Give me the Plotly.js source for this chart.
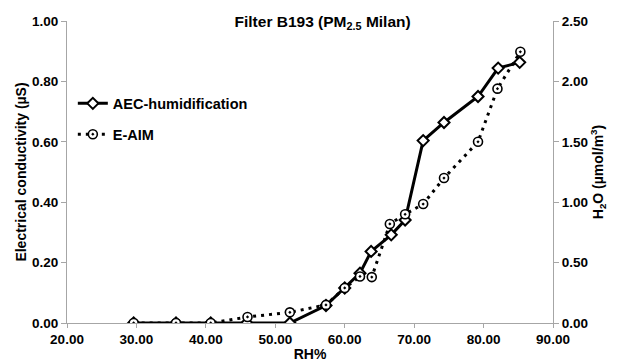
<!DOCTYPE html>
<html>
<head>
<meta charset="utf-8">
<script src="https://cdn.plot.ly/plotly-3.0.1.min.js"></script>
<style>html,body{margin:0;padding:0;background:#fff;}#chart{width:618px;height:362px;}</style>
</head>
<body>
<div id="chart"></div>
<script>
// Data
var rhAEC = [29.6, 35.7, 40.7, 45.9, 52.1, 57.3, 60.0, 62.2, 63.8, 66.7, 68.7, 71.3, 74.3, 79.2, 82.1, 85.2];
var conductivityAEC = [0, 0, 0, 0, 0, 0.058, 0.116, 0.165, 0.237, 0.292, 0.341, 0.604, 0.664, 0.750, 0.844, 0.863];
var rhEAIM = [29.6, 35.7, 40.7, 46.0, 52.1, 57.3, 60.0, 62.2, 63.9, 66.5, 68.7, 71.3, 74.3, 79.2, 82.0, 85.3];
var h2oEAIM = [0, 0, 0, 0.05, 0.088, 0.15, 0.29, 0.385, 0.38, 0.82, 0.90, 0.985, 1.20, 1.50, 1.94, 2.245];
var xTickVals = [20, 30, 40, 50, 60, 70, 80, 90];
var y1TickVals = [0, 0.2, 0.4, 0.6, 0.8, 1.0];
var y2TickVals = [0, 0.5, 1.0, 1.5, 2.0, 2.5];

var FONT = 'Liberation Sans, Arial, sans-serif';
var AXC = '#a6a6a6';

var traces = [
  {
    x: rhAEC, y: conductivityAEC, name: '<b>AEC-humidification</b>',
    type: 'scatter', mode: 'lines+markers', yaxis: 'y', legendgroup: 'a',
    line: {color: '#000', width: 3},
    marker: {symbol: 'diamond', size: 8.5, color: '#fff', line: {color: '#000', width: 2}}
  },
  {
    x: rhEAIM, y: h2oEAIM, name: '<b>E-AIM</b>',
    type: 'scatter', mode: 'lines+markers', yaxis: 'y2', legendgroup: 'b',
    line: {color: '#000', width: 3, dash: '3px,5px'},
    marker: {symbol: 'circle-dot', size: 9, color: '#fff', line: {color: '#000', width: 1.6}}
  }
];

var layout = {
  width: 618, height: 362,
  margin: {l: 67, r: 65, t: 21, b: 39},
  paper_bgcolor: '#fff', plot_bgcolor: '#fff',
  font: {family: FONT, size: 13, color: '#000'},
  title: {
    text: '<b>Filter B193 (PM<sub>2.5</sub> Milan)</b>',
    font: {family: FONT, size: 15.5, color: '#000'},
    x: 0.522, xanchor: 'center', xref: 'container',
    y: 0.94, yanchor: 'middle', yref: 'container'
  },
  showlegend: true,
  legend: {
    x: 0.012, xanchor: 'left', y: 0.78, yanchor: 'top',
    bgcolor: 'rgba(0,0,0,0)', font: {family: FONT, size: 14.5, color: '#000'},
    traceorder: 'grouped', tracegroupgap: 9
  },
  xaxis: {
    range: [20, 90], tickvals: xTickVals, tickformat: '.2f',
    showgrid: false, zeroline: false,
    showline: true, linecolor: AXC, linewidth: 1,
    ticks: 'outside', ticklen: 4, tickcolor: AXC,
    tickfont: {family: FONT, size: 13.5, color: '#000', weight: 'bold'},
    title: {text: '<b>RH%</b>', font: {family: FONT, size: 14, color: '#000'}, standoff: 3}
  },
  yaxis: {
    range: [0, 1], tickvals: y1TickVals, tickformat: '.2f',
    showgrid: false, zeroline: false,
    showline: true, linecolor: AXC, linewidth: 1,
    ticks: 'outside', ticklen: 5, tickcolor: AXC,
    tickfont: {family: FONT, size: 13.5, color: '#000', weight: 'bold'},
    title: {text: '<b>Electrical conductivity (µS)</b>', font: {family: FONT, size: 14, color: '#000'}, standoff: 2}
  },
  yaxis2: {
    range: [0, 2.5], tickvals: y2TickVals, tickformat: '.2f',
    overlaying: 'y', side: 'right',
    showgrid: false, zeroline: false,
    showline: true, linecolor: AXC, linewidth: 1,
    ticks: 'outside', ticklen: 5, tickcolor: AXC,
    tickfont: {family: FONT, size: 13.5, color: '#000', weight: 'bold'},
    title: {text: '<b>H<sub>2</sub>O (µmol/m<sup>3</sup>)</b>', font: {family: FONT, size: 14, color: '#000'}, standoff: 6}
  }
};

Plotly.newPlot('chart', traces, layout, {displayModeBar: false, staticPlot: true});
</script>
</body>
</html>
